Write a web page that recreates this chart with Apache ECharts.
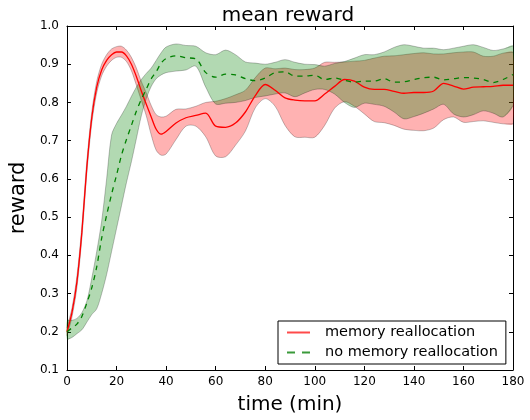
<!DOCTYPE html>
<html>
<head>
<meta charset="utf-8">
<script src="https://cdn.jsdelivr.net/npm/echarts@6/dist/echarts.min.js"></script>
<style>html,body{margin:0;padding:0;background:#fff}#c{width:530px;height:420px}</style>
</head>
<body>
<div id="c"></div>
<script>
var times = [0,2,4,6,8,10,12,14,16,18,20,22,24,26,28,30,32,34,36,38,40,
  44,48,52,56,60,64,68,72,76,80,84,88,92,96,100,104,108,112,116,120,124,128,132,136,140,144,148,152,156,160,164,168,172,176,180];

var redMean = [.20,.25,.33,.46,.63,.76,.84,.885,.91,.925,.932,.932,.922,.90,.868,.83,.795,.762,.73,.717,.724,
  .746,.76,.766,.772,.738,.735,.746,.775,.818,.847,.832,.812,.806,.804,.804,.822,.842,.86,.856,.84,.834,.834,.829,.824,.826,.826,.83,.85,.843,.835,.84,.841,.842,.845,.845];
var redUpper = [.21,.262,.345,.475,.645,.775,.855,.9,.925,.94,.946,.947,.937,.918,.89,.855,.825,.792,.768,.762,.764,
  .782,.783,.79,.8,.803,.81,.82,.832,.865,.89,.888,.89,.886,.886,.89,.905,.905,.906,.908,.91,.916,.921,.922,.925,.928,.93,.927,.927,.93,.932,.932,.921,.921,.929,.931];
var redLower = [.19,.238,.315,.445,.615,.745,.825,.87,.895,.91,.918,.918,.907,.883,.845,.805,.765,.715,.675,.662,.665,
  .703,.738,.738,.71,.66,.658,.688,.725,.786,.81,.79,.74,.71,.709,.709,.74,.785,.802,.79,.77,.75,.747,.74,.73,.727,.726,.733,.755,.762,.748,.75,.752,.748,.744,.744];

var greenMean = [.20,.21,.22,.24,.275,.315,.37,.445,.505,.56,.61,.662,.703,.74,.777,.808,.835,.862,.88,.903,.915,
  .922,.917,.914,.878,.866,.874,.872,.862,.857,.864,.878,.88,.869,.869,.871,.86,.864,.858,.853,.856,.856,.862,.853,.854,.86,.865,.866,.859,.862,.865,.864,.86,.852,.86,.873];
var greenUpper = [.23,.23,.235,.25,.28,.34,.41,.49,.6,.715,.745,.767,.79,.816,.84,.86,.876,.89,.91,.93,.945,
  .953,.949,.947,.93,.925,.937,.925,.906,.903,.9,.905,.912,.905,.9,.899,.895,.902,.907,.916,.925,.925,.932,.944,.951,.947,.942,.942,.938,.942,.947,.951,.944,.936,.94,.948];
var greenLower = [.18,.185,.195,.205,.225,.245,.26,.30,.35,.41,.47,.53,.59,.645,.705,.765,.81,.842,.862,.872,.878,
  .882,.885,.895,.84,.796,.798,.8,.805,.813,.817,.822,.825,.815,.825,.834,.834,.822,.8,.787,.798,.795,.79,.775,.757,.763,.772,.783,.795,.77,.762,.768,.778,.772,.762,.792];

var xTicks = [0,20,40,60,80,100,120,140,160,180];
var yTicks = [0.1,0.2,0.3,0.4,0.5,0.6,0.7,0.8,0.9,1.0];

function pairs(ys){ return times.map(function(t,i){ return [t, ys[i]]; }); }

var chart = echarts.init(document.getElementById('c'), null, {renderer:'canvas'});
var FONT = 'DejaVu Sans';
var SM = 0.3;

function bandSeries(up, lo, fill, z){
  return {
    type:'custom', silent:true, z:z, clip:true,
    data:[[0, up[0]]],
    renderItem:function(params, api){
      var top = times.map(function(t,i){ return api.coord([t, up[i]]); });
      var bot = times.map(function(t,i){ return api.coord([t, lo[i]]); });
      var poly = top.concat(bot.slice().reverse());
      return {type:'group', children:[
        {type:'polygon', shape:{points:poly, smooth:SM}, style:{fill:fill, stroke:null}},
        {type:'polyline', shape:{points:top, smooth:SM}, style:{fill:null, stroke:'rgba(0,0,0,0.3)', lineWidth:0.8}},
        {type:'polyline', shape:{points:bot, smooth:SM}, style:{fill:null, stroke:'rgba(0,0,0,0.3)', lineWidth:0.8}}
      ]};
    }
  };
}

function axisX(pos, show){
  return {type:'value', position:pos, min:0, max:180, interval:20,
    axisLine:{show:true, onZero:false, lineStyle:{color:'#000', width:1}},
    axisTick:{show:true, inside:true, length:4, lineStyle:{color:'#000'}},
    axisLabel:{show:show, color:'#000', fontSize:12, fontFamily:FONT, margin:6},
    splitLine:{show:false}};
}
function axisY(pos, show){
  return {type:'value', position:pos, min:0.1, max:1.0, interval:0.1,
    axisLine:{show:true, onZero:false, lineStyle:{color:'#000', width:1}},
    axisTick:{show:true, inside:true, length:4, lineStyle:{color:'#000'}},
    axisLabel:{show:show, color:'#000', fontSize:12, fontFamily:FONT, margin:8,
      formatter:function(v){ return v.toFixed(1); }},
    splitLine:{show:false}};
}
var xa0 = axisX('bottom', true);
xa0.name = 'time (min)'; xa0.nameLocation = 'middle'; xa0.nameGap = 25;
xa0.nameTextStyle = {fontSize:20, fontFamily:FONT, color:'#000'};
var ya0 = axisY('left', true);
ya0.name = 'reward'; ya0.nameLocation = 'middle'; ya0.nameGap = 32;
ya0.nameTextStyle = {fontSize:21, fontFamily:FONT, color:'#000'};

chart.setOption({
  animation:false,
  backgroundColor:'#fff',
  title:{text:'mean reward', left:283, top:1, textAlign:'center',
    textStyle:{fontSize:20, fontWeight:'normal', fontFamily:FONT, color:'#000'}},
  grid:{left:62, right:17, top:26, bottom:46},
  xAxis:[xa0, axisX('top', false)],
  yAxis:[ya0, axisY('right', false)],
  legend:{orient:'vertical', left:278, top:321,
    padding:[4,8,4,9], itemGap:5, itemWidth:23, itemHeight:2,
    borderColor:'#000', borderWidth:1, backgroundColor:'#fff',
    textStyle:{fontSize:14.5, fontFamily:FONT, color:'#000', padding:[0,0,0,10]},
    data:[
      {name:'memory reallocation', icon:'path://M0,0h23v2h-23z', itemStyle:{color:'#ff4a4a'}},
      {name:'no memory reallocation', icon:'path://M0,0h8v2h-8zM15,0h8v2h-8z', itemStyle:{color:'#3a9a3a'}}
    ]},
  series:[
    bandSeries(redUpper, redLower, 'rgba(255,0,0,0.3)', 2),
    bandSeries(greenUpper, greenLower, 'rgba(0,128,0,0.3)', 3),
    {name:'memory reallocation', type:'line', data:pairs(redMean), symbol:'none', smooth:SM,
      itemStyle:{color:'#ff0000'}, lineStyle:{color:'#ff0000', width:1.3}, z:5},
    {name:'no memory reallocation', type:'line', data:pairs(greenMean), symbol:'none', smooth:SM,
      itemStyle:{color:'#008000'}, lineStyle:{color:'#008000', width:1.3, type:[5,5]}, z:5}
  ]
});
</script>
</body>
</html>
